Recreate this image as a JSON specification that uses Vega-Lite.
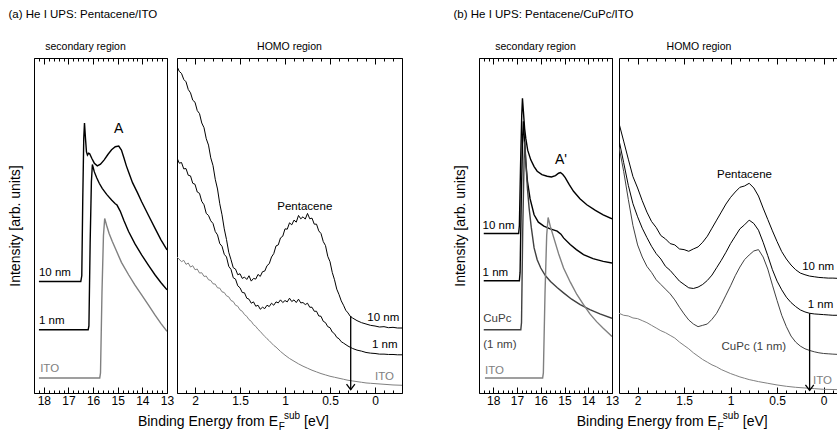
{
"$schema": "https://vega.github.io/schema/vega-lite/v6.json",
"padding": {"left": 7, "top": 9, "right": 0, "bottom": 0},
"spacing": 49,
"config": {
 "font": "Liberation Sans",
 "view": {"stroke": "#000", "strokeWidth": 1},
 "axis": {"grid": false, "domainColor": "#000", "domainWidth": 1, "tickColor": "#000", "tickWidth": 1, "labelColor": "#000", "labelFont": "Liberation Sans", "labelFontSize": 12, "titleFont": "Liberation Sans", "titleFontSize": 14, "titleFontWeight": "normal", "titleColor": "#000", "labelOverlap": false, "labelFlush": false, "labelBound": false},
 "title": {"font": "Liberation Sans", "fontWeight": "normal", "color": "#000"},
 "text": {"font": "Liberation Sans"}
},
"datasets": {
 "a1": [
  {"s":"10 nm","e":18.2,"i":33.3},{"s":"10 nm","e":16.5,"i":33.3},{"s":"10 nm","e":16.46,"i":35},{"s":"10 nm","e":16.42,"i":58},{"s":"10 nm","e":16.38,"i":76},{"s":"10 nm","e":16.35,"i":80.6},{"s":"10 nm","e":16.31,"i":76},{"s":"10 nm","e":16.27,"i":72},{"s":"10 nm","e":16.23,"i":71.0},{"s":"10 nm","e":16.18,"i":71.6},{"s":"10 nm","e":16.14,"i":71.4},{"s":"10 nm","e":16.05,"i":70.0},{"s":"10 nm","e":15.95,"i":68.6},{"s":"10 nm","e":15.83,"i":67.8},{"s":"10 nm","e":15.7,"i":68.3},{"s":"10 nm","e":15.55,"i":69.6},{"s":"10 nm","e":15.4,"i":71.2},{"s":"10 nm","e":15.25,"i":72.6},{"s":"10 nm","e":15.1,"i":73.5},{"s":"10 nm","e":14.96,"i":73.7},{"s":"10 nm","e":14.85,"i":72.5},{"s":"10 nm","e":14.75,"i":70.2},{"s":"10 nm","e":14.65,"i":67.8},{"s":"10 nm","e":14.56,"i":66.0},{"s":"10 nm","e":14.4,"i":62.8},{"s":"10 nm","e":14.2,"i":59.8},{"s":"10 nm","e":14.03,"i":57.1},{"s":"10 nm","e":13.75,"i":53.0},{"s":"10 nm","e":13.49,"i":49.2},{"s":"10 nm","e":13.25,"i":45.8},{"s":"10 nm","e":13.0,"i":42.7},
  {"s":"1 nm","e":18.2,"i":18.9},{"s":"1 nm","e":16.2,"i":18.9},{"s":"1 nm","e":16.17,"i":20},{"s":"1 nm","e":16.12,"i":45},{"s":"1 nm","e":16.07,"i":63},{"s":"1 nm","e":16.03,"i":68.2},{"s":"1 nm","e":15.95,"i":66.0},{"s":"1 nm","e":15.85,"i":64.2},{"s":"1 nm","e":15.75,"i":62.6},{"s":"1 nm","e":15.63,"i":61.1},{"s":"1 nm","e":15.45,"i":59.3},{"s":"1 nm","e":15.25,"i":57.6},{"s":"1 nm","e":15.1,"i":56.5},{"s":"1 nm","e":15.03,"i":56.1},{"s":"1 nm","e":14.9,"i":54.3},{"s":"1 nm","e":14.75,"i":51.5},{"s":"1 nm","e":14.56,"i":48.2},{"s":"1 nm","e":14.3,"i":44.5},{"s":"1 nm","e":14.03,"i":41.2},{"s":"1 nm","e":13.75,"i":38.1},{"s":"1 nm","e":13.49,"i":35.3},{"s":"1 nm","e":13.25,"i":33.0},{"s":"1 nm","e":13.0,"i":30.8},
  {"s":"ITO","e":18.2,"i":4.5},{"s":"ITO","e":15.73,"i":4.5},{"s":"ITO","e":15.7,"i":6},{"s":"ITO","e":15.64,"i":30},{"s":"ITO","e":15.58,"i":47},{"s":"ITO","e":15.53,"i":52.1},{"s":"ITO","e":15.45,"i":50.0},{"s":"ITO","e":15.35,"i":47.6},{"s":"ITO","e":15.22,"i":45.2},{"s":"ITO","e":15.1,"i":43.2},{"s":"ITO","e":14.85,"i":39.0},{"s":"ITO","e":14.56,"i":35.3},{"s":"ITO","e":14.3,"i":32.2},{"s":"ITO","e":14.03,"i":29.3},{"s":"ITO","e":13.75,"i":26.2},{"s":"ITO","e":13.49,"i":23.3},{"s":"ITO","e":13.25,"i":20.8},{"s":"ITO","e":13.0,"i":18.4}
 ],
 "a2": [
  {"s":"10 nm","e":2.2,"i":97.5},{"s":"10 nm","e":2.175,"i":96.0},{"s":"10 nm","e":2.15,"i":95.4},{"s":"10 nm","e":2.125,"i":93.6},{"s":"10 nm","e":2.1,"i":92.9},{"s":"10 nm","e":2.075,"i":90.6},{"s":"10 nm","e":2.05,"i":89.6},{"s":"10 nm","e":2.025,"i":87.4},{"s":"10 nm","e":2.0,"i":86.8},{"s":"10 nm","e":1.975,"i":84.3},{"s":"10 nm","e":1.95,"i":83.4},{"s":"10 nm","e":1.925,"i":80.6},{"s":"10 nm","e":1.9,"i":79.2},{"s":"10 nm","e":1.875,"i":75.9},{"s":"10 nm","e":1.85,"i":74.0},{"s":"10 nm","e":1.825,"i":70.2},{"s":"10 nm","e":1.8,"i":67.9},{"s":"10 nm","e":1.775,"i":63.8},{"s":"10 nm","e":1.75,"i":60.9},{"s":"10 nm","e":1.725,"i":56.5},{"s":"10 nm","e":1.7,"i":53.2},{"s":"10 nm","e":1.675,"i":49.0},{"s":"10 nm","e":1.65,"i":45.8},{"s":"10 nm","e":1.625,"i":42.0},{"s":"10 nm","e":1.6,"i":39.8},{"s":"10 nm","e":1.575,"i":37.4},{"s":"10 nm","e":1.55,"i":37.0},{"s":"10 nm","e":1.525,"i":35.3},{"s":"10 nm","e":1.5,"i":35.6},{"s":"10 nm","e":1.475,"i":34.2},{"s":"10 nm","e":1.45,"i":34.6},{"s":"10 nm","e":1.425,"i":33.9},{"s":"10 nm","e":1.4,"i":35.0},{"s":"10 nm","e":1.375,"i":33.4},{"s":"10 nm","e":1.35,"i":34.2},{"s":"10 nm","e":1.325,"i":34.0},{"s":"10 nm","e":1.3,"i":35.4},{"s":"10 nm","e":1.275,"i":34.8},{"s":"10 nm","e":1.25,"i":36.2},{"s":"10 nm","e":1.225,"i":36.4},{"s":"10 nm","e":1.2,"i":38.0},{"s":"10 nm","e":1.175,"i":38.6},{"s":"10 nm","e":1.15,"i":40.6},{"s":"10 nm","e":1.125,"i":41.6},{"s":"10 nm","e":1.1,"i":43.9},{"s":"10 nm","e":1.075,"i":44.2},{"s":"10 nm","e":1.05,"i":46.3},{"s":"10 nm","e":1.025,"i":46.8},{"s":"10 nm","e":1.0,"i":49.0},{"s":"10 nm","e":0.975,"i":48.9},{"s":"10 nm","e":0.95,"i":50.8},{"s":"10 nm","e":0.925,"i":50.2},{"s":"10 nm","e":0.9,"i":51.6},{"s":"10 nm","e":0.875,"i":51.0},{"s":"10 nm","e":0.85,"i":53.0},{"s":"10 nm","e":0.825,"i":52.0},{"s":"10 nm","e":0.8,"i":52.6},{"s":"10 nm","e":0.775,"i":51.9},{"s":"10 nm","e":0.75,"i":53.6},{"s":"10 nm","e":0.725,"i":52.0},{"s":"10 nm","e":0.7,"i":52.2},{"s":"10 nm","e":0.675,"i":50.4},{"s":"10 nm","e":0.65,"i":50.4},{"s":"10 nm","e":0.625,"i":48.4},{"s":"10 nm","e":0.6,"i":47.6},{"s":"10 nm","e":0.575,"i":45.2},{"s":"10 nm","e":0.55,"i":44.0},{"s":"10 nm","e":0.525,"i":40.8},{"s":"10 nm","e":0.5,"i":39.2},{"s":"10 nm","e":0.475,"i":36.0},{"s":"10 nm","e":0.45,"i":33.8},{"s":"10 nm","e":0.425,"i":31.0},{"s":"10 nm","e":0.4,"i":29.4},{"s":"10 nm","e":0.375,"i":27.5},{"s":"10 nm","e":0.35,"i":26.2},{"s":"10 nm","e":0.325,"i":24.7},{"s":"10 nm","e":0.3,"i":23.9},{"s":"10 nm","e":0.275,"i":22.9},{"s":"10 nm","e":0.25,"i":22.4},{"s":"10 nm","e":0.2,"i":21.6},{"s":"10 nm","e":0.15,"i":21.0},{"s":"10 nm","e":0.1,"i":20.6},{"s":"10 nm","e":0.05,"i":20.2},{"s":"10 nm","e":0.0,"i":20.0},{"s":"10 nm","e":-0.05,"i":19.7},{"s":"10 nm","e":-0.1,"i":19.8},{"s":"10 nm","e":-0.15,"i":19.5},{"s":"10 nm","e":-0.2,"i":19.6},{"s":"10 nm","e":-0.25,"i":19.4},{"s":"10 nm","e":-0.3,"i":19.4},
  {"s":"1 nm","e":2.2,"i":70.2},{"s":"1 nm","e":2.175,"i":68.6},{"s":"1 nm","e":2.15,"i":68.8},{"s":"1 nm","e":2.125,"i":66.9},{"s":"1 nm","e":2.1,"i":67.0},{"s":"1 nm","e":2.075,"i":65.0},{"s":"1 nm","e":2.05,"i":64.8},{"s":"1 nm","e":2.025,"i":62.6},{"s":"1 nm","e":2.0,"i":62.3},{"s":"1 nm","e":1.975,"i":60.0},{"s":"1 nm","e":1.95,"i":59.6},{"s":"1 nm","e":1.925,"i":57.2},{"s":"1 nm","e":1.9,"i":56.2},{"s":"1 nm","e":1.875,"i":53.6},{"s":"1 nm","e":1.85,"i":53.0},{"s":"1 nm","e":1.825,"i":51.4},{"s":"1 nm","e":1.8,"i":50.6},{"s":"1 nm","e":1.775,"i":48.2},{"s":"1 nm","e":1.75,"i":47.2},{"s":"1 nm","e":1.725,"i":44.6},{"s":"1 nm","e":1.7,"i":43.8},{"s":"1 nm","e":1.675,"i":41.4},{"s":"1 nm","e":1.65,"i":40.6},{"s":"1 nm","e":1.625,"i":37.8},{"s":"1 nm","e":1.6,"i":36.9},{"s":"1 nm","e":1.575,"i":34.4},{"s":"1 nm","e":1.55,"i":34.0},{"s":"1 nm","e":1.525,"i":32.0},{"s":"1 nm","e":1.5,"i":31.4},{"s":"1 nm","e":1.475,"i":30.0},{"s":"1 nm","e":1.45,"i":29.9},{"s":"1 nm","e":1.425,"i":28.3},{"s":"1 nm","e":1.4,"i":28.0},{"s":"1 nm","e":1.375,"i":26.8},{"s":"1 nm","e":1.35,"i":27.2},{"s":"1 nm","e":1.325,"i":25.9},{"s":"1 nm","e":1.3,"i":26.2},{"s":"1 nm","e":1.275,"i":25.0},{"s":"1 nm","e":1.25,"i":25.6},{"s":"1 nm","e":1.225,"i":25.2},{"s":"1 nm","e":1.2,"i":26.2},{"s":"1 nm","e":1.175,"i":25.8},{"s":"1 nm","e":1.15,"i":26.8},{"s":"1 nm","e":1.125,"i":26.2},{"s":"1 nm","e":1.1,"i":27.2},{"s":"1 nm","e":1.075,"i":26.9},{"s":"1 nm","e":1.05,"i":27.8},{"s":"1 nm","e":1.025,"i":27.0},{"s":"1 nm","e":1.0,"i":27.6},{"s":"1 nm","e":0.975,"i":27.2},{"s":"1 nm","e":0.95,"i":28.3},{"s":"1 nm","e":0.925,"i":27.3},{"s":"1 nm","e":0.9,"i":27.8},{"s":"1 nm","e":0.875,"i":27.0},{"s":"1 nm","e":0.85,"i":28.0},{"s":"1 nm","e":0.825,"i":26.9},{"s":"1 nm","e":0.8,"i":27.0},{"s":"1 nm","e":0.775,"i":26.4},{"s":"1 nm","e":0.75,"i":26.8},{"s":"1 nm","e":0.725,"i":25.6},{"s":"1 nm","e":0.7,"i":25.6},{"s":"1 nm","e":0.675,"i":24.4},{"s":"1 nm","e":0.65,"i":24.4},{"s":"1 nm","e":0.625,"i":23.0},{"s":"1 nm","e":0.6,"i":22.9},{"s":"1 nm","e":0.575,"i":21.4},{"s":"1 nm","e":0.55,"i":21.0},{"s":"1 nm","e":0.525,"i":19.8},{"s":"1 nm","e":0.5,"i":19.5},{"s":"1 nm","e":0.475,"i":18.2},{"s":"1 nm","e":0.45,"i":17.7},{"s":"1 nm","e":0.425,"i":16.6},{"s":"1 nm","e":0.4,"i":16.2},{"s":"1 nm","e":0.375,"i":15.3},{"s":"1 nm","e":0.35,"i":14.9},{"s":"1 nm","e":0.3,"i":14.0},{"s":"1 nm","e":0.25,"i":13.3},{"s":"1 nm","e":0.2,"i":12.8},{"s":"1 nm","e":0.15,"i":12.5},{"s":"1 nm","e":0.1,"i":12.1},{"s":"1 nm","e":0.05,"i":11.9},{"s":"1 nm","e":0.0,"i":11.8},{"s":"1 nm","e":-0.05,"i":11.6},{"s":"1 nm","e":-0.1,"i":11.6},{"s":"1 nm","e":-0.15,"i":11.5},{"s":"1 nm","e":-0.2,"i":11.5},{"s":"1 nm","e":-0.25,"i":11.4},{"s":"1 nm","e":-0.3,"i":11.4},
  {"s":"ITO","e":2.2,"i":40.6},{"s":"ITO","e":2.15,"i":39.2},{"s":"ITO","e":2.125,"i":39.6},{"s":"ITO","e":2.1,"i":38.4},{"s":"ITO","e":2.075,"i":38.8},{"s":"ITO","e":2.05,"i":37.6},{"s":"ITO","e":2.025,"i":38.0},{"s":"ITO","e":2.0,"i":36.8},{"s":"ITO","e":1.975,"i":37.0},{"s":"ITO","e":1.95,"i":35.8},{"s":"ITO","e":1.925,"i":35.9},{"s":"ITO","e":1.9,"i":34.8},{"s":"ITO","e":1.875,"i":34.9},{"s":"ITO","e":1.85,"i":33.8},{"s":"ITO","e":1.825,"i":33.6},{"s":"ITO","e":1.8,"i":32.6},{"s":"ITO","e":1.775,"i":32.5},{"s":"ITO","e":1.75,"i":31.4},{"s":"ITO","e":1.725,"i":31.3},{"s":"ITO","e":1.7,"i":30.2},{"s":"ITO","e":1.675,"i":30.0},{"s":"ITO","e":1.65,"i":29.0},{"s":"ITO","e":1.625,"i":28.7},{"s":"ITO","e":1.6,"i":27.6},{"s":"ITO","e":1.575,"i":27.3},{"s":"ITO","e":1.55,"i":26.2},{"s":"ITO","e":1.525,"i":25.9},{"s":"ITO","e":1.5,"i":24.8},{"s":"ITO","e":1.475,"i":24.4},{"s":"ITO","e":1.45,"i":23.4},{"s":"ITO","e":1.425,"i":22.9},{"s":"ITO","e":1.4,"i":21.9},{"s":"ITO","e":1.375,"i":21.4},{"s":"ITO","e":1.35,"i":20.4},{"s":"ITO","e":1.325,"i":19.9},{"s":"ITO","e":1.3,"i":19.0},{"s":"ITO","e":1.275,"i":18.4},{"s":"ITO","e":1.25,"i":17.6},{"s":"ITO","e":1.225,"i":16.9},{"s":"ITO","e":1.2,"i":16.2},{"s":"ITO","e":1.175,"i":15.6},{"s":"ITO","e":1.15,"i":14.9},{"s":"ITO","e":1.125,"i":14.2},{"s":"ITO","e":1.1,"i":13.7},{"s":"ITO","e":1.05,"i":12.4},{"s":"ITO","e":1.0,"i":11.3},{"s":"ITO","e":0.95,"i":10.3},{"s":"ITO","e":0.9,"i":9.5},{"s":"ITO","e":0.85,"i":8.7},{"s":"ITO","e":0.8,"i":8.0},{"s":"ITO","e":0.75,"i":7.4},{"s":"ITO","e":0.7,"i":6.8},{"s":"ITO","e":0.65,"i":6.3},{"s":"ITO","e":0.6,"i":5.8},{"s":"ITO","e":0.55,"i":5.4},{"s":"ITO","e":0.5,"i":5.0},{"s":"ITO","e":0.45,"i":4.7},{"s":"ITO","e":0.4,"i":4.4},{"s":"ITO","e":0.35,"i":4.1},{"s":"ITO","e":0.3,"i":3.8},{"s":"ITO","e":0.25,"i":3.6},{"s":"ITO","e":0.2,"i":3.4},{"s":"ITO","e":0.15,"i":3.2},{"s":"ITO","e":0.1,"i":3.0},{"s":"ITO","e":0.05,"i":2.9},{"s":"ITO","e":0.0,"i":2.8},{"s":"ITO","e":-0.1,"i":2.6},{"s":"ITO","e":-0.2,"i":2.4},{"s":"ITO","e":-0.3,"i":2.3}
 ],
 "b1": [
  {"s":"10 nm","e":18.4,"i":47.6},{"s":"10 nm","e":16.93,"i":47.6},{"s":"10 nm","e":16.9,"i":50},{"s":"10 nm","e":16.85,"i":68},{"s":"10 nm","e":16.8,"i":83},{"s":"10 nm","e":16.77,"i":88},{"s":"10 nm","e":16.73,"i":84},{"s":"10 nm","e":16.68,"i":79},{"s":"10 nm","e":16.63,"i":76},{"s":"10 nm","e":16.55,"i":72.5},{"s":"10 nm","e":16.42,"i":69.6},{"s":"10 nm","e":16.28,"i":67.6},{"s":"10 nm","e":16.15,"i":66.2},{"s":"10 nm","e":15.95,"i":65.2},{"s":"10 nm","e":15.73,"i":64.7},{"s":"10 nm","e":15.55,"i":64.5},{"s":"10 nm","e":15.38,"i":64.9},{"s":"10 nm","e":15.25,"i":65.6},{"s":"10 nm","e":15.17,"i":65.8},{"s":"10 nm","e":15.07,"i":65.2},{"s":"10 nm","e":14.97,"i":64.3},{"s":"10 nm","e":14.8,"i":62.2},{"s":"10 nm","e":14.62,"i":60.2},{"s":"10 nm","e":14.35,"i":58.0},{"s":"10 nm","e":14.06,"i":56.2},{"s":"10 nm","e":13.7,"i":54.5},{"s":"10 nm","e":13.37,"i":53.2},{"s":"10 nm","e":13.0,"i":52.0},
  {"s":"1 nm","e":18.4,"i":33.5},{"s":"1 nm","e":16.9,"i":33.5},{"s":"1 nm","e":16.87,"i":36},{"s":"1 nm","e":16.82,"i":58},{"s":"1 nm","e":16.76,"i":77},{"s":"1 nm","e":16.73,"i":81.1},{"s":"1 nm","e":16.69,"i":76},{"s":"1 nm","e":16.63,"i":69},{"s":"1 nm","e":16.56,"i":63.2},{"s":"1 nm","e":16.45,"i":58.0},{"s":"1 nm","e":16.28,"i":53.2},{"s":"1 nm","e":16.1,"i":51.0},{"s":"1 nm","e":15.87,"i":49.8},{"s":"1 nm","e":15.6,"i":49.0},{"s":"1 nm","e":15.31,"i":48.3},{"s":"1 nm","e":15.15,"i":47.4},{"s":"1 nm","e":15.04,"i":46.3},{"s":"1 nm","e":14.76,"i":44.3},{"s":"1 nm","e":14.5,"i":42.8},{"s":"1 nm","e":14.2,"i":41.3},{"s":"1 nm","e":13.8,"i":40.1},{"s":"1 nm","e":13.37,"i":39.3},{"s":"1 nm","e":13.0,"i":38.8},
  {"s":"CuPc","e":18.4,"i":18.9},{"s":"CuPc","e":16.84,"i":18.9},{"s":"CuPc","e":16.81,"i":21},{"s":"CuPc","e":16.76,"i":48},{"s":"CuPc","e":16.7,"i":70},{"s":"CuPc","e":16.67,"i":75.1},{"s":"CuPc","e":16.62,"i":68},{"s":"CuPc","e":16.56,"i":61},{"s":"CuPc","e":16.49,"i":55.2},{"s":"CuPc","e":16.4,"i":49.5},{"s":"CuPc","e":16.28,"i":43.3},{"s":"CuPc","e":16.15,"i":39.8},{"s":"CuPc","e":16.0,"i":37.3},{"s":"CuPc","e":15.8,"i":35.0},{"s":"CuPc","e":15.59,"i":33.3},{"s":"CuPc","e":15.3,"i":31.4},{"s":"CuPc","e":15.04,"i":29.9},{"s":"CuPc","e":14.7,"i":28.0},{"s":"CuPc","e":14.34,"i":26.4},{"s":"CuPc","e":13.93,"i":24.9},{"s":"CuPc","e":13.51,"i":23.6},{"s":"CuPc","e":13.0,"i":22.3},
  {"s":"ITO","e":18.35,"i":4.5},{"s":"ITO","e":15.92,"i":4.5},{"s":"ITO","e":15.89,"i":6},{"s":"ITO","e":15.82,"i":30},{"s":"ITO","e":15.75,"i":47},{"s":"ITO","e":15.69,"i":52.4},{"s":"ITO","e":15.6,"i":49.8},{"s":"ITO","e":15.45,"i":46.3},{"s":"ITO","e":15.25,"i":41.6},{"s":"ITO","e":15.04,"i":37.3},{"s":"ITO","e":14.75,"i":33.0},{"s":"ITO","e":14.48,"i":29.4},{"s":"ITO","e":14.2,"i":26.4},{"s":"ITO","e":13.93,"i":23.6},{"s":"ITO","e":13.65,"i":21.3},{"s":"ITO","e":13.37,"i":19.3},{"s":"ITO","e":13.0,"i":16.9}
 ],
 "b2": [
  {"s":"10 nm","e":2.2,"i":80.5},{"s":"10 nm","e":2.15,"i":75.2},{"s":"10 nm","e":2.1,"i":69.8},{"s":"10 nm","e":2.05,"i":64.6},{"s":"10 nm","e":2.0,"i":61.2},{"s":"10 nm","e":1.95,"i":57.4},{"s":"10 nm","e":1.9,"i":54.0},{"s":"10 nm","e":1.85,"i":51.2},{"s":"10 nm","e":1.8,"i":49.4},{"s":"10 nm","e":1.75,"i":47.0},{"s":"10 nm","e":1.7,"i":46.0},{"s":"10 nm","e":1.65,"i":44.6},{"s":"10 nm","e":1.6,"i":44.2},{"s":"10 nm","e":1.55,"i":43.0},{"s":"10 nm","e":1.5,"i":42.8},{"s":"10 nm","e":1.45,"i":42.3},{"s":"10 nm","e":1.4,"i":43.0},{"s":"10 nm","e":1.35,"i":43.6},{"s":"10 nm","e":1.3,"i":45.0},{"s":"10 nm","e":1.25,"i":46.8},{"s":"10 nm","e":1.2,"i":49.2},{"s":"10 nm","e":1.15,"i":51.6},{"s":"10 nm","e":1.1,"i":54.0},{"s":"10 nm","e":1.05,"i":56.4},{"s":"10 nm","e":1.0,"i":58.4},{"s":"10 nm","e":0.95,"i":60.0},{"s":"10 nm","e":0.9,"i":61.4},{"s":"10 nm","e":0.85,"i":61.8},{"s":"10 nm","e":0.8,"i":62.6},{"s":"10 nm","e":0.75,"i":61.2},{"s":"10 nm","e":0.7,"i":58.8},{"s":"10 nm","e":0.65,"i":55.2},{"s":"10 nm","e":0.6,"i":51.8},{"s":"10 nm","e":0.55,"i":48.4},{"s":"10 nm","e":0.5,"i":45.2},{"s":"10 nm","e":0.45,"i":42.2},{"s":"10 nm","e":0.4,"i":40.0},{"s":"10 nm","e":0.35,"i":38.2},{"s":"10 nm","e":0.3,"i":36.8},{"s":"10 nm","e":0.25,"i":35.8},{"s":"10 nm","e":0.2,"i":35.3},{"s":"10 nm","e":0.15,"i":34.9},{"s":"10 nm","e":0.1,"i":34.7},{"s":"10 nm","e":0.05,"i":34.5},{"s":"10 nm","e":0.0,"i":34.4},{"s":"10 nm","e":-0.05,"i":34.3},{"s":"10 nm","e":-0.1,"i":34.3},{"s":"10 nm","e":-0.17,"i":34.2},
  {"s":"1 nm","e":2.2,"i":75.5},{"s":"1 nm","e":2.15,"i":68.8},{"s":"1 nm","e":2.1,"i":62.0},{"s":"1 nm","e":2.05,"i":56.5},{"s":"1 nm","e":2.0,"i":52.6},{"s":"1 nm","e":1.95,"i":49.2},{"s":"1 nm","e":1.9,"i":46.4},{"s":"1 nm","e":1.85,"i":43.8},{"s":"1 nm","e":1.8,"i":41.6},{"s":"1 nm","e":1.75,"i":40.0},{"s":"1 nm","e":1.7,"i":37.8},{"s":"1 nm","e":1.65,"i":36.6},{"s":"1 nm","e":1.6,"i":35.0},{"s":"1 nm","e":1.55,"i":33.4},{"s":"1 nm","e":1.5,"i":32.4},{"s":"1 nm","e":1.45,"i":31.4},{"s":"1 nm","e":1.4,"i":31.2},{"s":"1 nm","e":1.35,"i":31.6},{"s":"1 nm","e":1.3,"i":32.4},{"s":"1 nm","e":1.25,"i":33.6},{"s":"1 nm","e":1.2,"i":35.2},{"s":"1 nm","e":1.15,"i":37.4},{"s":"1 nm","e":1.1,"i":39.6},{"s":"1 nm","e":1.05,"i":42.0},{"s":"1 nm","e":1.0,"i":44.6},{"s":"1 nm","e":0.95,"i":46.8},{"s":"1 nm","e":0.9,"i":49.0},{"s":"1 nm","e":0.85,"i":50.2},{"s":"1 nm","e":0.8,"i":51.6},{"s":"1 nm","e":0.75,"i":50.6},{"s":"1 nm","e":0.7,"i":48.6},{"s":"1 nm","e":0.65,"i":45.0},{"s":"1 nm","e":0.6,"i":41.0},{"s":"1 nm","e":0.55,"i":36.8},{"s":"1 nm","e":0.5,"i":33.4},{"s":"1 nm","e":0.45,"i":30.8},{"s":"1 nm","e":0.4,"i":28.6},{"s":"1 nm","e":0.35,"i":27.0},{"s":"1 nm","e":0.3,"i":25.8},{"s":"1 nm","e":0.25,"i":24.8},{"s":"1 nm","e":0.2,"i":24.2},{"s":"1 nm","e":0.15,"i":23.8},{"s":"1 nm","e":0.1,"i":23.6},{"s":"1 nm","e":0.05,"i":23.5},{"s":"1 nm","e":0.0,"i":23.4},{"s":"1 nm","e":-0.05,"i":23.3},{"s":"1 nm","e":-0.1,"i":23.2},{"s":"1 nm","e":-0.17,"i":23.2},
  {"s":"CuPc","e":2.2,"i":73.5},{"s":"CuPc","e":2.15,"i":66.2},{"s":"CuPc","e":2.1,"i":57.8},{"s":"CuPc","e":2.05,"i":50.0},{"s":"CuPc","e":2.0,"i":44.2},{"s":"CuPc","e":1.95,"i":40.6},{"s":"CuPc","e":1.9,"i":37.8},{"s":"CuPc","e":1.85,"i":36.0},{"s":"CuPc","e":1.8,"i":33.8},{"s":"CuPc","e":1.75,"i":32.4},{"s":"CuPc","e":1.7,"i":31.0},{"s":"CuPc","e":1.65,"i":29.6},{"s":"CuPc","e":1.6,"i":27.8},{"s":"CuPc","e":1.55,"i":25.6},{"s":"CuPc","e":1.5,"i":23.6},{"s":"CuPc","e":1.45,"i":21.8},{"s":"CuPc","e":1.4,"i":20.6},{"s":"CuPc","e":1.35,"i":19.8},{"s":"CuPc","e":1.3,"i":20.2},{"s":"CuPc","e":1.25,"i":20.6},{"s":"CuPc","e":1.2,"i":22.0},{"s":"CuPc","e":1.15,"i":23.8},{"s":"CuPc","e":1.1,"i":26.4},{"s":"CuPc","e":1.05,"i":29.2},{"s":"CuPc","e":1.0,"i":32.0},{"s":"CuPc","e":0.95,"i":35.0},{"s":"CuPc","e":0.9,"i":37.6},{"s":"CuPc","e":0.85,"i":39.8},{"s":"CuPc","e":0.8,"i":41.2},{"s":"CuPc","e":0.75,"i":42.4},{"s":"CuPc","e":0.7,"i":42.8},{"s":"CuPc","e":0.65,"i":40.6},{"s":"CuPc","e":0.6,"i":37.0},{"s":"CuPc","e":0.55,"i":32.2},{"s":"CuPc","e":0.5,"i":27.6},{"s":"CuPc","e":0.45,"i":23.2},{"s":"CuPc","e":0.4,"i":19.8},{"s":"CuPc","e":0.35,"i":17.0},{"s":"CuPc","e":0.3,"i":15.2},{"s":"CuPc","e":0.25,"i":14.0},{"s":"CuPc","e":0.2,"i":13.2},{"s":"CuPc","e":0.15,"i":12.7},{"s":"CuPc","e":0.1,"i":12.3},{"s":"CuPc","e":0.05,"i":12.0},{"s":"CuPc","e":0.0,"i":11.8},{"s":"CuPc","e":-0.05,"i":11.7},{"s":"CuPc","e":-0.1,"i":11.6},{"s":"CuPc","e":-0.17,"i":11.5},
  {"s":"ITO","e":2.2,"i":23.8},{"s":"ITO","e":2.15,"i":23.2},{"s":"ITO","e":2.1,"i":23.0},{"s":"ITO","e":2.05,"i":22.4},{"s":"ITO","e":2.0,"i":22.2},{"s":"ITO","e":1.95,"i":21.6},{"s":"ITO","e":1.9,"i":21.0},{"s":"ITO","e":1.85,"i":20.2},{"s":"ITO","e":1.8,"i":19.4},{"s":"ITO","e":1.75,"i":18.6},{"s":"ITO","e":1.7,"i":18.0},{"s":"ITO","e":1.65,"i":17.2},{"s":"ITO","e":1.6,"i":16.4},{"s":"ITO","e":1.55,"i":15.2},{"s":"ITO","e":1.5,"i":14.2},{"s":"ITO","e":1.45,"i":13.2},{"s":"ITO","e":1.4,"i":12.0},{"s":"ITO","e":1.35,"i":11.0},{"s":"ITO","e":1.3,"i":10.0},{"s":"ITO","e":1.25,"i":9.2},{"s":"ITO","e":1.2,"i":8.4},{"s":"ITO","e":1.15,"i":7.8},{"s":"ITO","e":1.1,"i":7.0},{"s":"ITO","e":1.05,"i":6.4},{"s":"ITO","e":1.0,"i":5.8},{"s":"ITO","e":0.95,"i":5.3},{"s":"ITO","e":0.9,"i":4.8},{"s":"ITO","e":0.85,"i":4.4},{"s":"ITO","e":0.8,"i":4.0},{"s":"ITO","e":0.75,"i":3.7},{"s":"ITO","e":0.7,"i":3.4},{"s":"ITO","e":0.6,"i":2.9},{"s":"ITO","e":0.5,"i":2.4},{"s":"ITO","e":0.4,"i":2.0},{"s":"ITO","e":0.3,"i":1.7},{"s":"ITO","e":0.2,"i":1.5},{"s":"ITO","e":0.1,"i":1.3},{"s":"ITO","e":0.0,"i":1.1},{"s":"ITO","e":-0.17,"i":1.0}
 ],
 "lab": [
  {"p":"a1","t":"10 nm","s":"10 nm","e":18.2,"i":35.0},
  {"p":"a1","t":"1 nm","s":"1 nm","e":18.2,"i":20.6},
  {"p":"a1","t":"ITO","s":"ITO","e":18.15,"i":6.2},
  {"p":"a1c","t":"A","s":"note","e":14.96,"i":77.5},
  {"p":"a2","t":"10 nm","s":"10 nm","e":-0.27,"i":21.5},
  {"p":"a2","t":"1 nm","s":"1 nm","e":-0.25,"i":13.3},
  {"p":"a2","t":"ITO","s":"ITO","e":-0.21,"i":4.0},
  {"p":"a2c","t":"Pentacene","s":"note","e":0.78,"i":54.6},
  {"p":"b1","t":"10 nm","s":"10 nm","e":18.45,"i":49.0},
  {"p":"b1","t":"1 nm","s":"1 nm","e":18.45,"i":34.9},
  {"p":"b1","t":"CuPc","s":"CuPc","e":18.42,"i":21.2},
  {"p":"b1","t":"(1 nm)","s":"CuPc","e":18.42,"i":13.3},
  {"p":"b1","t":"ITO","s":"ITO","e":18.35,"i":5.8},
  {"p":"b1c","t":"A'","s":"note","e":15.15,"i":68.5},
  {"p":"b2","t":"10 nm","s":"10 nm","e":0.23,"i":36.6},
  {"p":"b2","t":"1 nm","s":"1 nm","e":0.17,"i":25.4},
  {"p":"b2","t":"ITO","s":"ITO","e":0.114,"i":2.6},
  {"p":"b2c","t":"Pentacene","s":"note","e":0.85,"i":64.3},
  {"p":"b2c","t":"CuPc (1 nm)","s":"CuPc","e":0.75,"i":12.8}
 ],
 "arr": [
  {"p":"a","e":0.27,"i":23.0,"i2":1.0},
  {"p":"b","e":0.15,"i":23.8,"i2":0.8}
 ],
 "xt": [
  {"p":"a","k":"m","t":"Binding Energy from E","e":1.078,"i":-9.8},
  {"p":"a","k":"f","t":"F","e":1.07,"i":-11.1},
  {"p":"a","k":"u","t":"sub","e":1.011,"i":-7.9},
  {"p":"a","k":"v","t":"[eV]","e":0.789,"i":-9.8},
  {"p":"b","k":"m","t":"Binding Energy from E","e":1.148,"i":-9.8},
  {"p":"b","k":"f","t":"F","e":1.141,"i":-11.1},
  {"p":"b","k":"u","t":"sub","e":1.083,"i":-7.9},
  {"p":"b","k":"v","t":"[eV]","e":0.869,"i":-9.8}
 ]
},
"hconcat": [
 {
  "title": {"text": "(a) He I UPS: Pentacene/ITO", "anchor": "start", "fontSize": 11.5, "offset": 21, "dx": 1},
  "bounds": "flush",
  "spacing": 10,
  "hconcat": [
   {
    "width": 133, "height": 335,
    "title": {"text": "secondary region", "fontSize": 10.5, "offset": 5, "frame": "group", "dx": -15},
    "resolve": {"axis": {"x": "independent", "y": "independent"}},
    "layer": [
     {"data": {"name": "a1"}, "mark": {"type": "line", "strokeWidth": 1.4, "clip": true},
      "encoding": {
       "x": {"field": "e", "type": "quantitative", "scale": {"domain": [13, 18.4], "reverse": true, "nice": false, "zero": false},
             "axis": {"orient": "bottom", "title": null, "values": [13,13.2,13.4,13.6,13.8,14,14.2,14.4,14.6,14.8,15,15.2,15.4,15.6,15.8,16,16.2,16.4,16.6,16.8,17,17.2,17.4,17.6,17.8,18,18.2],
                      "labelExpr": "abs(datum.value - round(datum.value)) < 0.01 ? format(datum.value, 'd') : ''",
                      "tickSize": {"condition": {"test": "abs(datum.value - round(datum.value)) < 0.01", "value": -6}, "value": -3},
                      "labelPadding": 8, "domain": true}},
       "y": {"field": "i", "type": "quantitative", "scale": {"domain": [0, 100], "nice": false, "zero": false},
             "axis": {"title": "Intensity [arb. units]", "labels": false, "ticks": false, "domain": false, "titlePadding": 12}},
       "color": {"field": "s", "type": "nominal", "scale": {"domain": ["10 nm","1 nm","CuPc","ITO","note"], "range": ["#000000","#000000","#404040","#808080","#000000"]}, "legend": null}
      }},
     {"data": {"name": "lab"}, "transform": [{"filter": "datum.p === 'a1'"}], "mark": {"type": "text", "align": "left", "baseline": "alphabetic", "fontSize": 11.5},
      "encoding": {
       "x": {"field": "e", "type": "quantitative", "scale": {"domain": [13, 18.4], "reverse": true, "nice": false, "zero": false},
             "axis": {"orient": "top", "title": null, "labels": false, "values": [13,13.2,13.4,13.6,13.8,14,14.2,14.4,14.6,14.8,15,15.2,15.4,15.6,15.8,16,16.2,16.4,16.6,16.8,17,17.2,17.4,17.6,17.8,18,18.2],
                      "tickSize": {"condition": {"test": "abs(datum.value - round(datum.value)) < 0.01", "value": -6}, "value": -3}, "domain": true}},
       "y": {"field": "i", "type": "quantitative", "scale": {"domain": [0, 100], "nice": false, "zero": false}, "axis": null},
       "text": {"field": "t"},
       "color": {"field": "s", "type": "nominal", "scale": {"domain": ["10 nm","1 nm","CuPc","ITO","note"], "range": ["#000000","#000000","#404040","#808080","#000000"]}, "legend": null}
      }},
     {"data": {"name": "lab"}, "transform": [{"filter": "datum.p === 'a1c'"}], "mark": {"type": "text", "align": "center", "baseline": "alphabetic", "fontSize": 14, "color": "#000"},
      "encoding": {
       "x": {"field": "e", "type": "quantitative", "scale": {"domain": [13, 18.4], "reverse": true, "nice": false, "zero": false}, "axis": null},
       "y": {"field": "i", "type": "quantitative", "scale": {"domain": [0, 100], "nice": false, "zero": false}, "axis": null},
       "text": {"field": "t"}
      }}
    ]
   },
   {
    "width": 225, "height": 335,
    "title": {"text": "HOMO region", "fontSize": 10.5, "offset": 5, "frame": "group"},
    "resolve": {"axis": {"x": "independent", "y": "independent"}},
    "layer": [
     {"data": {"name": "a2"}, "mark": {"type": "line", "strokeWidth": 1, "clip": true},
      "encoding": {
       "x": {"field": "e", "type": "quantitative", "scale": {"domain": [-0.3, 2.2], "reverse": true, "nice": false, "zero": false},
             "axis": {"orient": "bottom", "title": null, "values": [2.1,2,1.9,1.8,1.7,1.6,1.5,1.4,1.3,1.2,1.1,1,0.9,0.8,0.7,0.6,0.5,0.4,0.3,0.2,0.1,0,-0.1,-0.2],
                      "labelExpr": "abs(2*datum.value - round(2*datum.value)) < 0.01 ? format(datum.value, '.1~f') : ''",
                      "tickSize": {"condition": {"test": "abs(2*datum.value - round(2*datum.value)) < 0.01", "value": -6}, "value": -3},
                      "labelPadding": 8, "domain": true}},
       "y": {"field": "i", "type": "quantitative", "scale": {"domain": [0, 100], "nice": false, "zero": false}, "axis": null},
       "color": {"field": "s", "type": "nominal", "scale": {"domain": ["10 nm","1 nm","CuPc","ITO","note"], "range": ["#000000","#000000","#404040","#808080","#000000"]}, "legend": null}
      }},
     {"data": {"name": "lab"}, "transform": [{"filter": "datum.p === 'a2'"}], "mark": {"type": "text", "align": "right", "baseline": "alphabetic", "fontSize": 11.5},
      "encoding": {
       "x": {"field": "e", "type": "quantitative", "scale": {"domain": [-0.3, 2.2], "reverse": true, "nice": false, "zero": false},
             "axis": {"orient": "top", "title": null, "labels": false, "values": [2.1,2,1.9,1.8,1.7,1.6,1.5,1.4,1.3,1.2,1.1,1,0.9,0.8,0.7,0.6,0.5,0.4,0.3,0.2,0.1,0,-0.1,-0.2],
                      "tickSize": {"condition": {"test": "abs(2*datum.value - round(2*datum.value)) < 0.01", "value": -6}, "value": -3}, "domain": true}},
       "y": {"field": "i", "type": "quantitative", "scale": {"domain": [0, 100], "nice": false, "zero": false}, "axis": null},
       "text": {"field": "t"},
       "color": {"field": "s", "type": "nominal", "scale": {"domain": ["10 nm","1 nm","CuPc","ITO","note"], "range": ["#000000","#000000","#404040","#808080","#000000"]}, "legend": null}
      }},
     {"data": {"name": "lab"}, "transform": [{"filter": "datum.p === 'a2c'"}], "mark": {"type": "text", "align": "center", "baseline": "alphabetic", "fontSize": 11.5, "color": "#000"},
      "encoding": {
       "x": {"field": "e", "type": "quantitative", "scale": {"domain": [-0.3, 2.2], "reverse": true, "nice": false, "zero": false}, "axis": null},
       "y": {"field": "i", "type": "quantitative", "scale": {"domain": [0, 100], "nice": false, "zero": false}, "axis": null},
       "text": {"field": "t"}
      }},
     {"data": {"name": "arr"}, "transform": [{"filter": "datum.p === 'a'"}], "mark": {"type": "rule", "color": "#000", "strokeWidth": 1.3},
      "encoding": {
       "x": {"field": "e", "type": "quantitative", "scale": {"domain": [-0.3, 2.2], "reverse": true, "nice": false, "zero": false}, "axis": null},
       "y": {"field": "i", "type": "quantitative", "scale": {"domain": [0, 100], "nice": false, "zero": false}, "axis": null},
       "y2": {"field": "i2"}
      }},
     {"data": {"name": "arr"}, "transform": [{"filter": "datum.p === 'a'"}], "mark": {"type": "point", "shape": "M-1,-1.3L0,0L1,-1.3", "filled": false, "color": "#000", "strokeWidth": 1.3, "size": 70, "opacity": 1},
      "encoding": {
       "x": {"field": "e", "type": "quantitative", "scale": {"domain": [-0.3, 2.2], "reverse": true, "nice": false, "zero": false}, "axis": null},
       "y": {"field": "i2", "type": "quantitative", "scale": {"domain": [0, 100], "nice": false, "zero": false}, "axis": null}
      }},
     {"data": {"name": "xt"}, "transform": [{"filter": "datum.p === 'a' && datum.k === 'm'"}], "mark": {"type": "text", "align": "right", "baseline": "alphabetic", "fontSize": 14, "color": "#000"},
      "encoding": {
       "x": {"field": "e", "type": "quantitative", "scale": {"domain": [-0.3, 2.2], "reverse": true, "nice": false, "zero": false}, "axis": null},
       "y": {"field": "i", "type": "quantitative", "scale": {"domain": [0, 100], "nice": false, "zero": false}, "axis": null},
       "text": {"field": "t"}
      }},
     {"data": {"name": "xt"}, "transform": [{"filter": "datum.p === 'a' && (datum.k === 'f' || datum.k === 'u')"}], "mark": {"type": "text", "align": "left", "baseline": "alphabetic", "fontSize": 10, "color": "#000"},
      "encoding": {
       "x": {"field": "e", "type": "quantitative", "scale": {"domain": [-0.3, 2.2], "reverse": true, "nice": false, "zero": false}, "axis": null},
       "y": {"field": "i", "type": "quantitative", "scale": {"domain": [0, 100], "nice": false, "zero": false}, "axis": null},
       "text": {"field": "t"}
      }},
     {"data": {"name": "xt"}, "transform": [{"filter": "datum.p === 'a' && datum.k === 'v'"}], "mark": {"type": "text", "align": "left", "baseline": "alphabetic", "fontSize": 14, "color": "#000"},
      "encoding": {
       "x": {"field": "e", "type": "quantitative", "scale": {"domain": [-0.3, 2.2], "reverse": true, "nice": false, "zero": false}, "axis": null},
       "y": {"field": "i", "type": "quantitative", "scale": {"domain": [0, 100], "nice": false, "zero": false}, "axis": null},
       "text": {"field": "t"}
      }}
    ]
   }
  ]
 },
 {
  "title": {"text": "(b) He I UPS: Pentacene/CuPc/ITO", "anchor": "start", "fontSize": 11.5, "offset": 21, "dx": 1},
  "bounds": "flush",
  "spacing": 7,
  "hconcat": [
   {
    "width": 133, "height": 335,
    "title": {"text": "secondary region", "fontSize": 10.5, "offset": 5, "frame": "group", "dx": -10},
    "resolve": {"axis": {"x": "independent", "y": "independent"}},
    "layer": [
     {"data": {"name": "b1"}, "mark": {"type": "line", "strokeWidth": 1.4, "clip": true},
      "encoding": {
       "x": {"field": "e", "type": "quantitative", "scale": {"domain": [13, 18.6], "reverse": true, "nice": false, "zero": false},
             "axis": {"orient": "bottom", "title": null, "values": [13,13.2,13.4,13.6,13.8,14,14.2,14.4,14.6,14.8,15,15.2,15.4,15.6,15.8,16,16.2,16.4,16.6,16.8,17,17.2,17.4,17.6,17.8,18,18.2,18.4],
                      "labelExpr": "abs(datum.value - round(datum.value)) < 0.01 ? format(datum.value, 'd') : ''",
                      "tickSize": {"condition": {"test": "abs(datum.value - round(datum.value)) < 0.01", "value": -6}, "value": -3},
                      "labelPadding": 8, "domain": true}},
       "y": {"field": "i", "type": "quantitative", "scale": {"domain": [0, 100], "nice": false, "zero": false},
             "axis": {"title": "Intensity [arb. units]", "labels": false, "ticks": false, "domain": false, "titlePadding": 12}},
       "color": {"field": "s", "type": "nominal", "scale": {"domain": ["10 nm","1 nm","CuPc","ITO","note"], "range": ["#000000","#000000","#404040","#808080","#000000"]}, "legend": null}
      }},
     {"data": {"name": "lab"}, "transform": [{"filter": "datum.p === 'b1'"}], "mark": {"type": "text", "align": "left", "baseline": "alphabetic", "fontSize": 11.5},
      "encoding": {
       "x": {"field": "e", "type": "quantitative", "scale": {"domain": [13, 18.6], "reverse": true, "nice": false, "zero": false},
             "axis": {"orient": "top", "title": null, "labels": false, "values": [13,13.2,13.4,13.6,13.8,14,14.2,14.4,14.6,14.8,15,15.2,15.4,15.6,15.8,16,16.2,16.4,16.6,16.8,17,17.2,17.4,17.6,17.8,18,18.2,18.4],
                      "tickSize": {"condition": {"test": "abs(datum.value - round(datum.value)) < 0.01", "value": -6}, "value": -3}, "domain": true}},
       "y": {"field": "i", "type": "quantitative", "scale": {"domain": [0, 100], "nice": false, "zero": false}, "axis": null},
       "text": {"field": "t"},
       "color": {"field": "s", "type": "nominal", "scale": {"domain": ["10 nm","1 nm","CuPc","ITO","note"], "range": ["#000000","#000000","#404040","#808080","#000000"]}, "legend": null}
      }},
     {"data": {"name": "lab"}, "transform": [{"filter": "datum.p === 'b1c'"}], "mark": {"type": "text", "align": "center", "baseline": "alphabetic", "fontSize": 14, "color": "#000"},
      "encoding": {
       "x": {"field": "e", "type": "quantitative", "scale": {"domain": [13, 18.6], "reverse": true, "nice": false, "zero": false}, "axis": null},
       "y": {"field": "i", "type": "quantitative", "scale": {"domain": [0, 100], "nice": false, "zero": false}, "axis": null},
       "text": {"field": "t"}
      }}
    ]
   },
   {
    "width": 220, "height": 335,
    "view": {"stroke": null},
    "title": {"text": "HOMO region", "fontSize": 10.5, "offset": 5, "frame": "group", "dx": -30},
    "resolve": {"axis": {"x": "independent", "y": "independent"}},
    "layer": [
     {"data": {"name": "b2"}, "mark": {"type": "line", "strokeWidth": 1, "clip": true},
      "encoding": {
       "x": {"field": "e", "type": "quantitative", "scale": {"domain": [-0.166, 2.2], "reverse": true, "nice": false, "zero": false},
             "axis": {"orient": "bottom", "title": null, "values": [2.1,2,1.9,1.8,1.7,1.6,1.5,1.4,1.3,1.2,1.1,1,0.9,0.8,0.7,0.6,0.5,0.4,0.3,0.2,0.1,0,-0.1],
                      "labelExpr": "abs(2*datum.value - round(2*datum.value)) < 0.01 ? format(datum.value, '.1~f') : ''",
                      "tickSize": {"condition": {"test": "abs(2*datum.value - round(2*datum.value)) < 0.01", "value": -6}, "value": -3},
                      "labelPadding": 8, "domain": true}},
       "y": {"field": "i", "type": "quantitative", "scale": {"domain": [0, 100], "nice": false, "zero": false},
             "axis": {"title": null, "labels": false, "ticks": false, "domain": true}},
       "color": {"field": "s", "type": "nominal", "scale": {"domain": ["10 nm","1 nm","CuPc","ITO","note"], "range": ["#000000","#000000","#404040","#808080","#000000"]}, "legend": null}
      }},
     {"data": {"name": "lab"}, "transform": [{"filter": "datum.p === 'b2'"}], "mark": {"type": "text", "align": "left", "baseline": "alphabetic", "fontSize": 11.5},
      "encoding": {
       "x": {"field": "e", "type": "quantitative", "scale": {"domain": [-0.166, 2.2], "reverse": true, "nice": false, "zero": false},
             "axis": {"orient": "top", "title": null, "labels": false, "values": [2.1,2,1.9,1.8,1.7,1.6,1.5,1.4,1.3,1.2,1.1,1,0.9,0.8,0.7,0.6,0.5,0.4,0.3,0.2,0.1,0,-0.1],
                      "tickSize": {"condition": {"test": "abs(2*datum.value - round(2*datum.value)) < 0.01", "value": -6}, "value": -3}, "domain": true}},
       "y": {"field": "i", "type": "quantitative", "scale": {"domain": [0, 100], "nice": false, "zero": false}, "axis": null},
       "text": {"field": "t"},
       "color": {"field": "s", "type": "nominal", "scale": {"domain": ["10 nm","1 nm","CuPc","ITO","note"], "range": ["#000000","#000000","#404040","#808080","#000000"]}, "legend": null}
      }},
     {"data": {"name": "lab"}, "transform": [{"filter": "datum.p === 'b2c'"}], "mark": {"type": "text", "align": "center", "baseline": "alphabetic", "fontSize": 11.5},
      "encoding": {
       "x": {"field": "e", "type": "quantitative", "scale": {"domain": [-0.166, 2.2], "reverse": true, "nice": false, "zero": false}, "axis": null},
       "y": {"field": "i", "type": "quantitative", "scale": {"domain": [0, 100], "nice": false, "zero": false}, "axis": null},
       "text": {"field": "t"},
       "color": {"field": "s", "type": "nominal", "scale": {"domain": ["10 nm","1 nm","CuPc","ITO","note"], "range": ["#000000","#000000","#404040","#808080","#000000"]}, "legend": null}
      }},
     {"data": {"name": "arr"}, "transform": [{"filter": "datum.p === 'b'"}], "mark": {"type": "rule", "color": "#000", "strokeWidth": 1.3},
      "encoding": {
       "x": {"field": "e", "type": "quantitative", "scale": {"domain": [-0.166, 2.2], "reverse": true, "nice": false, "zero": false}, "axis": null},
       "y": {"field": "i", "type": "quantitative", "scale": {"domain": [0, 100], "nice": false, "zero": false}, "axis": null},
       "y2": {"field": "i2"}
      }},
     {"data": {"name": "arr"}, "transform": [{"filter": "datum.p === 'b'"}], "mark": {"type": "point", "shape": "M-1,-1.3L0,0L1,-1.3", "filled": false, "color": "#000", "strokeWidth": 1.3, "size": 70, "opacity": 1},
      "encoding": {
       "x": {"field": "e", "type": "quantitative", "scale": {"domain": [-0.166, 2.2], "reverse": true, "nice": false, "zero": false}, "axis": null},
       "y": {"field": "i2", "type": "quantitative", "scale": {"domain": [0, 100], "nice": false, "zero": false}, "axis": null}
      }},
     {"data": {"name": "xt"}, "transform": [{"filter": "datum.p === 'b' && datum.k === 'm'"}], "mark": {"type": "text", "align": "right", "baseline": "alphabetic", "fontSize": 14, "color": "#000"},
      "encoding": {
       "x": {"field": "e", "type": "quantitative", "scale": {"domain": [-0.166, 2.2], "reverse": true, "nice": false, "zero": false}, "axis": null},
       "y": {"field": "i", "type": "quantitative", "scale": {"domain": [0, 100], "nice": false, "zero": false}, "axis": null},
       "text": {"field": "t"}
      }},
     {"data": {"name": "xt"}, "transform": [{"filter": "datum.p === 'b' && (datum.k === 'f' || datum.k === 'u')"}], "mark": {"type": "text", "align": "left", "baseline": "alphabetic", "fontSize": 10, "color": "#000"},
      "encoding": {
       "x": {"field": "e", "type": "quantitative", "scale": {"domain": [-0.166, 2.2], "reverse": true, "nice": false, "zero": false}, "axis": null},
       "y": {"field": "i", "type": "quantitative", "scale": {"domain": [0, 100], "nice": false, "zero": false}, "axis": null},
       "text": {"field": "t"}
      }},
     {"data": {"name": "xt"}, "transform": [{"filter": "datum.p === 'b' && datum.k === 'v'"}], "mark": {"type": "text", "align": "left", "baseline": "alphabetic", "fontSize": 14, "color": "#000"},
      "encoding": {
       "x": {"field": "e", "type": "quantitative", "scale": {"domain": [-0.166, 2.2], "reverse": true, "nice": false, "zero": false}, "axis": null},
       "y": {"field": "i", "type": "quantitative", "scale": {"domain": [0, 100], "nice": false, "zero": false}, "axis": null},
       "text": {"field": "t"}
      }}
    ]
   }
  ]
 }
]
}
